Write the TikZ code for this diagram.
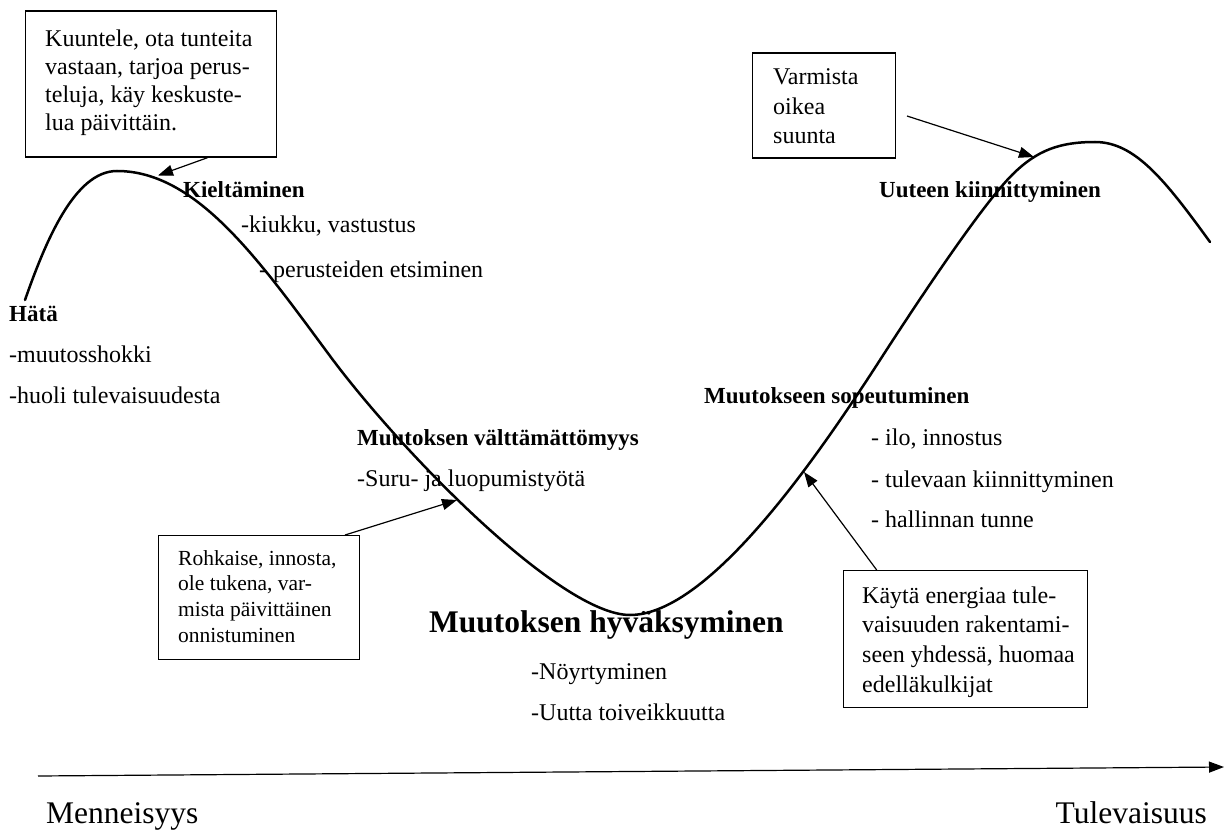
\documentclass[tikz,border=0pt]{standalone}
\usepackage{fontspec}
\setmainfont{Liberation Serif}
\usetikzlibrary{arrows.meta,calc}
\newcommand\txtsz{\fontsize{24}{28}\selectfont}
\newcommand\hdsz{\fontsize{23}{28}\selectfont}
\newcommand\boxsz{\fontsize{21.5}{26}\selectfont}
\newcommand\bigsz{\fontsize{31.5}{36}\selectfont}
\tikzset{
  curveline/.style={line width=2.5pt, line cap=round},
  arr/.style={line width=1.2pt, -{Triangle[length=15pt,width=11pt]}},
  boxnode/.style={draw, line width=1.2pt, inner sep=0pt, anchor=north west},
  lbl/.style={anchor=base west, inner sep=0pt, font=\txtsz},
  hd/.style={anchor=base west, inner sep=0pt, font=\hdsz\bfseries},
}
\begin{document}
\begin{tikzpicture}[x=1pt,y=-1pt]
\useasboundingbox[fill=white] (0,0) rectangle (1224,832);

% main curve
\draw[curveline] (25,300)
  .. controls (46,240) and (75,171) .. (117,171)
  .. controls (197,171) and (260,261.5) .. (330,356)
  .. controls (400,450.5) and (560,615) .. (630,615)
  .. controls (710,615) and (820,453) .. (880,360)
  .. controls (920,298) and (982,205) .. (1012,175)
  .. controls (1037,150) and (1060,142) .. (1095,142)
  .. controls (1135,142) and (1165,180) .. (1210,242);

% boxes
\node[boxnode, minimum width=251pt, minimum height=146pt] (b1) at (24.5,10.5) {};
\node[lbl] (t1) at (45,47) {\vtop{\baselineskip=27.7pt
  \hbox{Kuuntele, ota tunteita}\hbox{vastaan, tarjoa perus-}\hbox{teluja, käy keskuste-}\hbox{lua päivittäin.}}};

\node[boxnode, minimum width=143pt, minimum height=105pt] (b2) at (752,52.5) {};
\node[lbl] (t2) at (773,85) {\vtop{\baselineskip=29.5pt
  \hbox{Varmista}\hbox{oikea}\hbox{suunta}}};

\node[boxnode, minimum width=200.5pt, minimum height=123.5pt] (b3) at (158,535) {};
\node[lbl, font=\boxsz] (t3) at (178,565) {\vtop{\baselineskip=25.9pt
  \hbox{Rohkaise, innosta,}\hbox{ole tukena, var-}\hbox{mista päivittäinen}\hbox{onnistuminen}}};

\node[boxnode, minimum width=244pt, minimum height=137pt] (b4) at (842.7,570) {};
\node[lbl] (t4) at (862,603) {\vtop{\baselineskip=29.7pt
  \hbox{Käytä energiaa tule-}\hbox{vaisuuden rakentami-}\hbox{seen yhdessä, huomaa}\hbox{edelläkulkijat}}};

% connector end points
\coordinate (s1) at ($(b1.south west)+(183,0)$);
\coordinate (e1) at (158,175.5);
\coordinate (s2) at (907,116);
\coordinate (e2) at (1034,157);
\coordinate (s3) at ($(b3.north west)+(187,0)$);
\coordinate (e3) at (457,500);
\coordinate (s4) at ($(b4.north west)+(34,0)$);
\coordinate (e4) at (804,472);
\coordinate (ax0) at (38,776);
\coordinate (ax1) at (1224,767);

\draw[arr] (s1) -- (e1);
\draw[arr] (s2) -- (e2);
\draw[arr] (s3) -- (e3);
\draw[arr] (s4) -- (e4);
\draw[arr] (ax0) -- (ax1);

% labels
\node[hd] (kielt) at (183,197) {Kieltäminen};
\node[lbl] (kiukku) at (241,232) {-kiukku, vastustus};
\node[lbl] (perus) at (259,277) {- perusteiden etsiminen};

\node[hd] (hata) at (9,321) {Hätä};
\node[lbl] (shokki) at (9,362) {-muutosshokki};
\node[lbl] (huoli) at (9,403) {-huoli tulevaisuudesta};

\node[hd] (valt) at (357,445) {Muutoksen välttämättömyys};
\node[lbl] (suru) at (357,486) {-Suru- ja luopumistyötä};

\node[hd, font=\bigsz\bfseries] (hyv) at (429,632) {Muutoksen hyväksyminen};
\node[lbl] (noyr) at (531,679) {-Nöyrtyminen};
\node[lbl] (toive) at (531,720) {-Uutta toiveikkuutta};

\node[hd] (uuteen) at (879,197) {Uuteen kiinnittyminen};

\node[hd] (sopeu) at (704,403) {Muutokseen sopeutuminen};
\node[lbl] (ilo) at (871,445) {- ilo, innostus};
\node[lbl] (tulev) at (871,487) {- tulevaan kiinnittyminen};
\node[lbl] (hall) at (871,527) {- hallinnan tunne};

\node[lbl, font=\bigsz] (menn) at (46,823) {Menneisyys};
\node[lbl, font=\bigsz, anchor=base east] (tulevaisuus) at (1207,823) {Tulevaisuus};
\end{tikzpicture}
\end{document}
